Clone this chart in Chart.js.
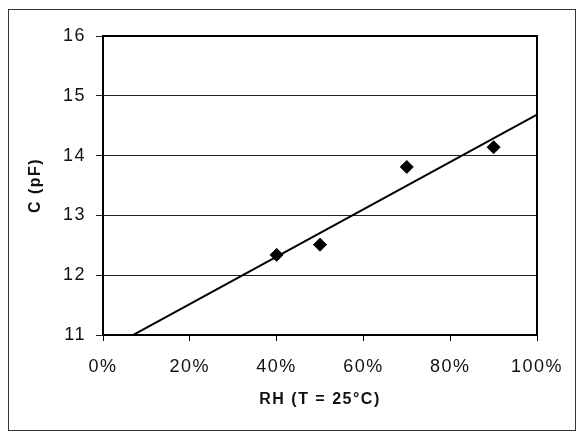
<!DOCTYPE html>
<html>
<head>
<meta charset="utf-8">
<script src="https://cdn.jsdelivr.net/npm/chart.js@4/dist/chart.umd.min.js"></script>
<style>
  html,body{margin:0;padding:0;background:#fff}
  #wrap{position:relative;width:579px;height:433px}
</style>
</head>
<body>
<div id="wrap"><canvas id="c" width="579" height="433"></canvas></div>
<script>
// Données
const rh = [0.40, 0.50, 0.70, 0.90];          // humidité relative
const cap = [12.34, 12.51, 13.81, 14.14];     // capacité (pF)
const yTicks = [11, 12, 13, 14, 15, 16];
const xTicks = [0, 0.2, 0.4, 0.6, 0.8, 1.0];

// Courbe de tendance (moindres carrés sur les points)
const mx = rh.reduce((a,b)=>a+b,0)/rh.length;
const my = cap.reduce((a,b)=>a+b,0)/cap.length;
let sxy = 0, sxx = 0;
rh.forEach((x,i)=>{ sxy += (x-mx)*(cap[i]-my); sxx += (x-mx)*(x-mx); });
const slope = sxy/sxx, icpt = my - slope*mx;
const trend = [xTicks[0], xTicks[xTicks.length-1]].map(x=>({x, y: icpt + slope*x}));

const frame = {
  id:'frame',
  beforeDraw(chart){
    chart.ctx.letterSpacing = '1.5px';
    const ctx = chart.ctx;
    ctx.save();
    ctx.strokeStyle = '#333'; ctx.lineWidth = 1;
    ctx.strokeRect(8.5, 9.5, 567, 421);
    ctx.restore();
  },
  afterDraw(chart){
    const {ctx, chartArea:a} = chart;
    ctx.save();
    ctx.strokeStyle = '#000'; ctx.lineWidth = 2;
    ctx.strokeRect(a.left, a.top, a.right-a.left, a.bottom-a.top);
    ctx.restore();
  }
};

const txt = '#111';
new Chart(document.getElementById('c'), {
  type:'scatter',
  data:{ datasets:[
    { type:'line', data: trend, borderColor:'#000', borderWidth:2, pointRadius:0, fill:false, order:2 },
    { data: rh.map((x,i)=>({x, y:cap[i]})), pointStyle:'rectRot', pointRadius:6.5, pointHoverRadius:6.5,
      backgroundColor:'#000', borderColor:'#000', order:1 }
  ]},
  options:{
    responsive:false, animation:false, devicePixelRatio:1,
    layout:{ padding:{ left:0, top:36, right:42, bottom:0 } },
    plugins:{ legend:{display:false}, tooltip:{enabled:false} },
    scales:{
      x:{
        type:'linear', min:0, max:1,
        afterBuildTicks: s => { s.ticks = xTicks.map(v=>({value:v})); },
        afterFit: s => { s.height = 98; },
        grid:{ drawOnChartArea:false, drawTicks:true, tickLength:6, color:'#000' },
        border:{ color:'#000', width:2 },
        ticks:{ color:txt, padding:15, font:{family:'Liberation Sans', size:18},
                callback: v => Math.round(v*100)+'%' },
        title:{ display:true, text:'RH (T = 25°C)', color:txt, padding:{top:0,bottom:24},
                font:{family:'Liberation Sans', size:16, weight:'bold'} }
      },
      y:{
        min:11, max:16,
        afterBuildTicks: s => { s.ticks = yTicks.map(v=>({value:v})); },
        afterFit: s => { s.width = 103; },
        grid:{ color:'#222', lineWidth:1, tickLength:7 },
        border:{ color:'#000', width:2 },
        ticks:{ color:txt, padding:10, font:{family:'Liberation Sans', size:18} },
        title:{ display:true, text:'C (pF)', color:txt, padding:{top:26,bottom:0},
                font:{family:'Liberation Sans', size:16, weight:'bold'} }
      }
    }
  },
  plugins:[frame]
});
</script>
</body>
</html>
